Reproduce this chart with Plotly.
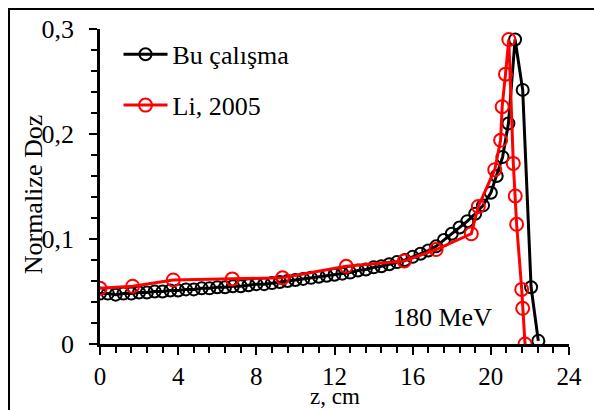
import plotly.graph_objects as go

# Bu çalışma (this work)
z_bu = [0.0, 0.4, 0.8, 1.2, 1.6, 2.0, 2.4, 2.8, 3.2, 3.6, 4.0, 4.4, 4.8, 5.2, 5.6, 6.0,
        6.4, 6.8, 7.2, 7.6, 8.0, 8.4, 8.8, 9.2, 9.6, 10.0, 10.4, 10.8, 11.2, 11.6, 12.0,
        12.4, 12.8, 13.2, 13.6, 14.0, 14.4, 14.8, 15.2, 15.6, 16.0, 16.4, 16.8, 17.2,
        17.6, 18.0, 18.4, 18.8, 19.2, 19.6, 20.0, 20.3, 20.6, 20.9, 21.24, 21.63, 22.06, 22.43]
d_bu = [0.048, 0.048, 0.047, 0.048, 0.048, 0.049, 0.049, 0.050, 0.050, 0.051, 0.051, 0.052,
        0.052, 0.053, 0.053, 0.054, 0.054, 0.055, 0.055, 0.056, 0.057, 0.057, 0.058, 0.059,
        0.060, 0.061, 0.062, 0.063, 0.064, 0.065, 0.066, 0.067, 0.068, 0.070, 0.071, 0.073,
        0.074, 0.076, 0.078, 0.080, 0.083, 0.086, 0.089, 0.093, 0.099, 0.105, 0.111, 0.117,
        0.124, 0.132, 0.144, 0.160, 0.178, 0.210, 0.290, 0.242, 0.054, 0.003]

# Li, 2005
z_li = [0.0, 1.67, 3.75, 6.77, 9.34, 12.6, 15.57, 17.2, 19.0, 19.36, 20.2, 20.5, 20.58,
        20.75, 20.92, 21.15, 21.25, 21.32, 21.58, 21.63, 21.75]
d_li = [0.053, 0.055, 0.061, 0.062, 0.063, 0.074, 0.079, 0.090, 0.105, 0.131, 0.166,
        0.194, 0.226, 0.257, 0.290, 0.172, 0.141, 0.114, 0.052, 0.034, 0.0]

x_ticks = [0, 4, 8, 12, 16, 20, 24]
x_ticklabels = ["0", "4", "8", "12", "16", "20", "24"]
y_ticks = [0, 0.1, 0.2, 0.3]
y_ticklabels = ["0", "0,1", "0,2", "0,3"]

FONT = "Liberation Serif"

fig = go.Figure()
fig.add_trace(go.Scatter(
    x=z_bu, y=d_bu, mode="lines+markers", name="Bu çalışma", legendgroup="a",
    line=dict(color="black", width=3),
    marker=dict(symbol="circle-open", size=12, color="black", line=dict(width=2)),
))
fig.add_trace(go.Scatter(
    x=z_li, y=d_li, mode="lines+markers", name="Li, 2005", legendgroup="b",
    line=dict(color="#ff0000", width=3),
    marker=dict(symbol="circle-open", size=13, color="#ff0000", line=dict(width=2)),
))

axis_common = dict(
    showgrid=False, zeroline=False, showline=True, linecolor="black", linewidth=2.5,
    ticks="outside", ticklen=8, tickwidth=2, tickcolor="black",
)
fig.update_xaxes(range=[0, 24], tickvals=x_ticks, ticktext=x_ticklabels,
                 minor=dict(dtick=0.8, ticks="outside", ticklen=6, tickwidth=2, tickcolor="black"),
                 ticklabelstandoff=0, tickfont=dict(family=FONT, size=25, color="black"),
                 **axis_common)
fig.update_yaxes(range=[0, 0.3], tickvals=y_ticks, ticktext=y_ticklabels,
                 minor=dict(dtick=0.02, ticks="outside", ticklen=6, tickwidth=2, tickcolor="black"),
                 ticklabelstandoff=10, tickfont=dict(family=FONT, size=26, color="black"),
                 **axis_common)

fig.add_annotation(text="Normalize Doz", xref="paper", yref="paper", x=-0.143, y=0.475,
                   textangle=-90, showarrow=False, font=dict(family=FONT, size=26, color="black"),
                   xanchor="center", yanchor="middle")
fig.add_annotation(text="z, cm", xref="paper", yref="paper", x=0.5, y=-0.166,
                   showarrow=False, font=dict(family=FONT, size=23, color="black"),
                   xanchor="center", yanchor="middle")
fig.add_annotation(text="180 MeV", x=17.55, y=0.025, xref="x", yref="y", showarrow=False,
                   font=dict(family=FONT, size=26, color="black"))

# outer frame
fig.add_shape(type="rect", xref="paper", yref="paper", x0=-0.194, y0=-0.3, x1=1.15, y1=1.0635,
              line=dict(color="black", width=2), layer="below")

fig.update_layout(
    width=594, height=410,
    margin=dict(l=100, r=25, t=29, b=66),
    paper_bgcolor="white", plot_bgcolor="white",
    showlegend=True,
    legend=dict(x=0.0395, y=0.994, xanchor="left", yanchor="top", bgcolor="rgba(0,0,0,0)",
                font=dict(family=FONT, size=26, color="black"), tracegroupgap=14,
                traceorder="grouped", itemwidth=44),
)

fig.write_html("out.html")
